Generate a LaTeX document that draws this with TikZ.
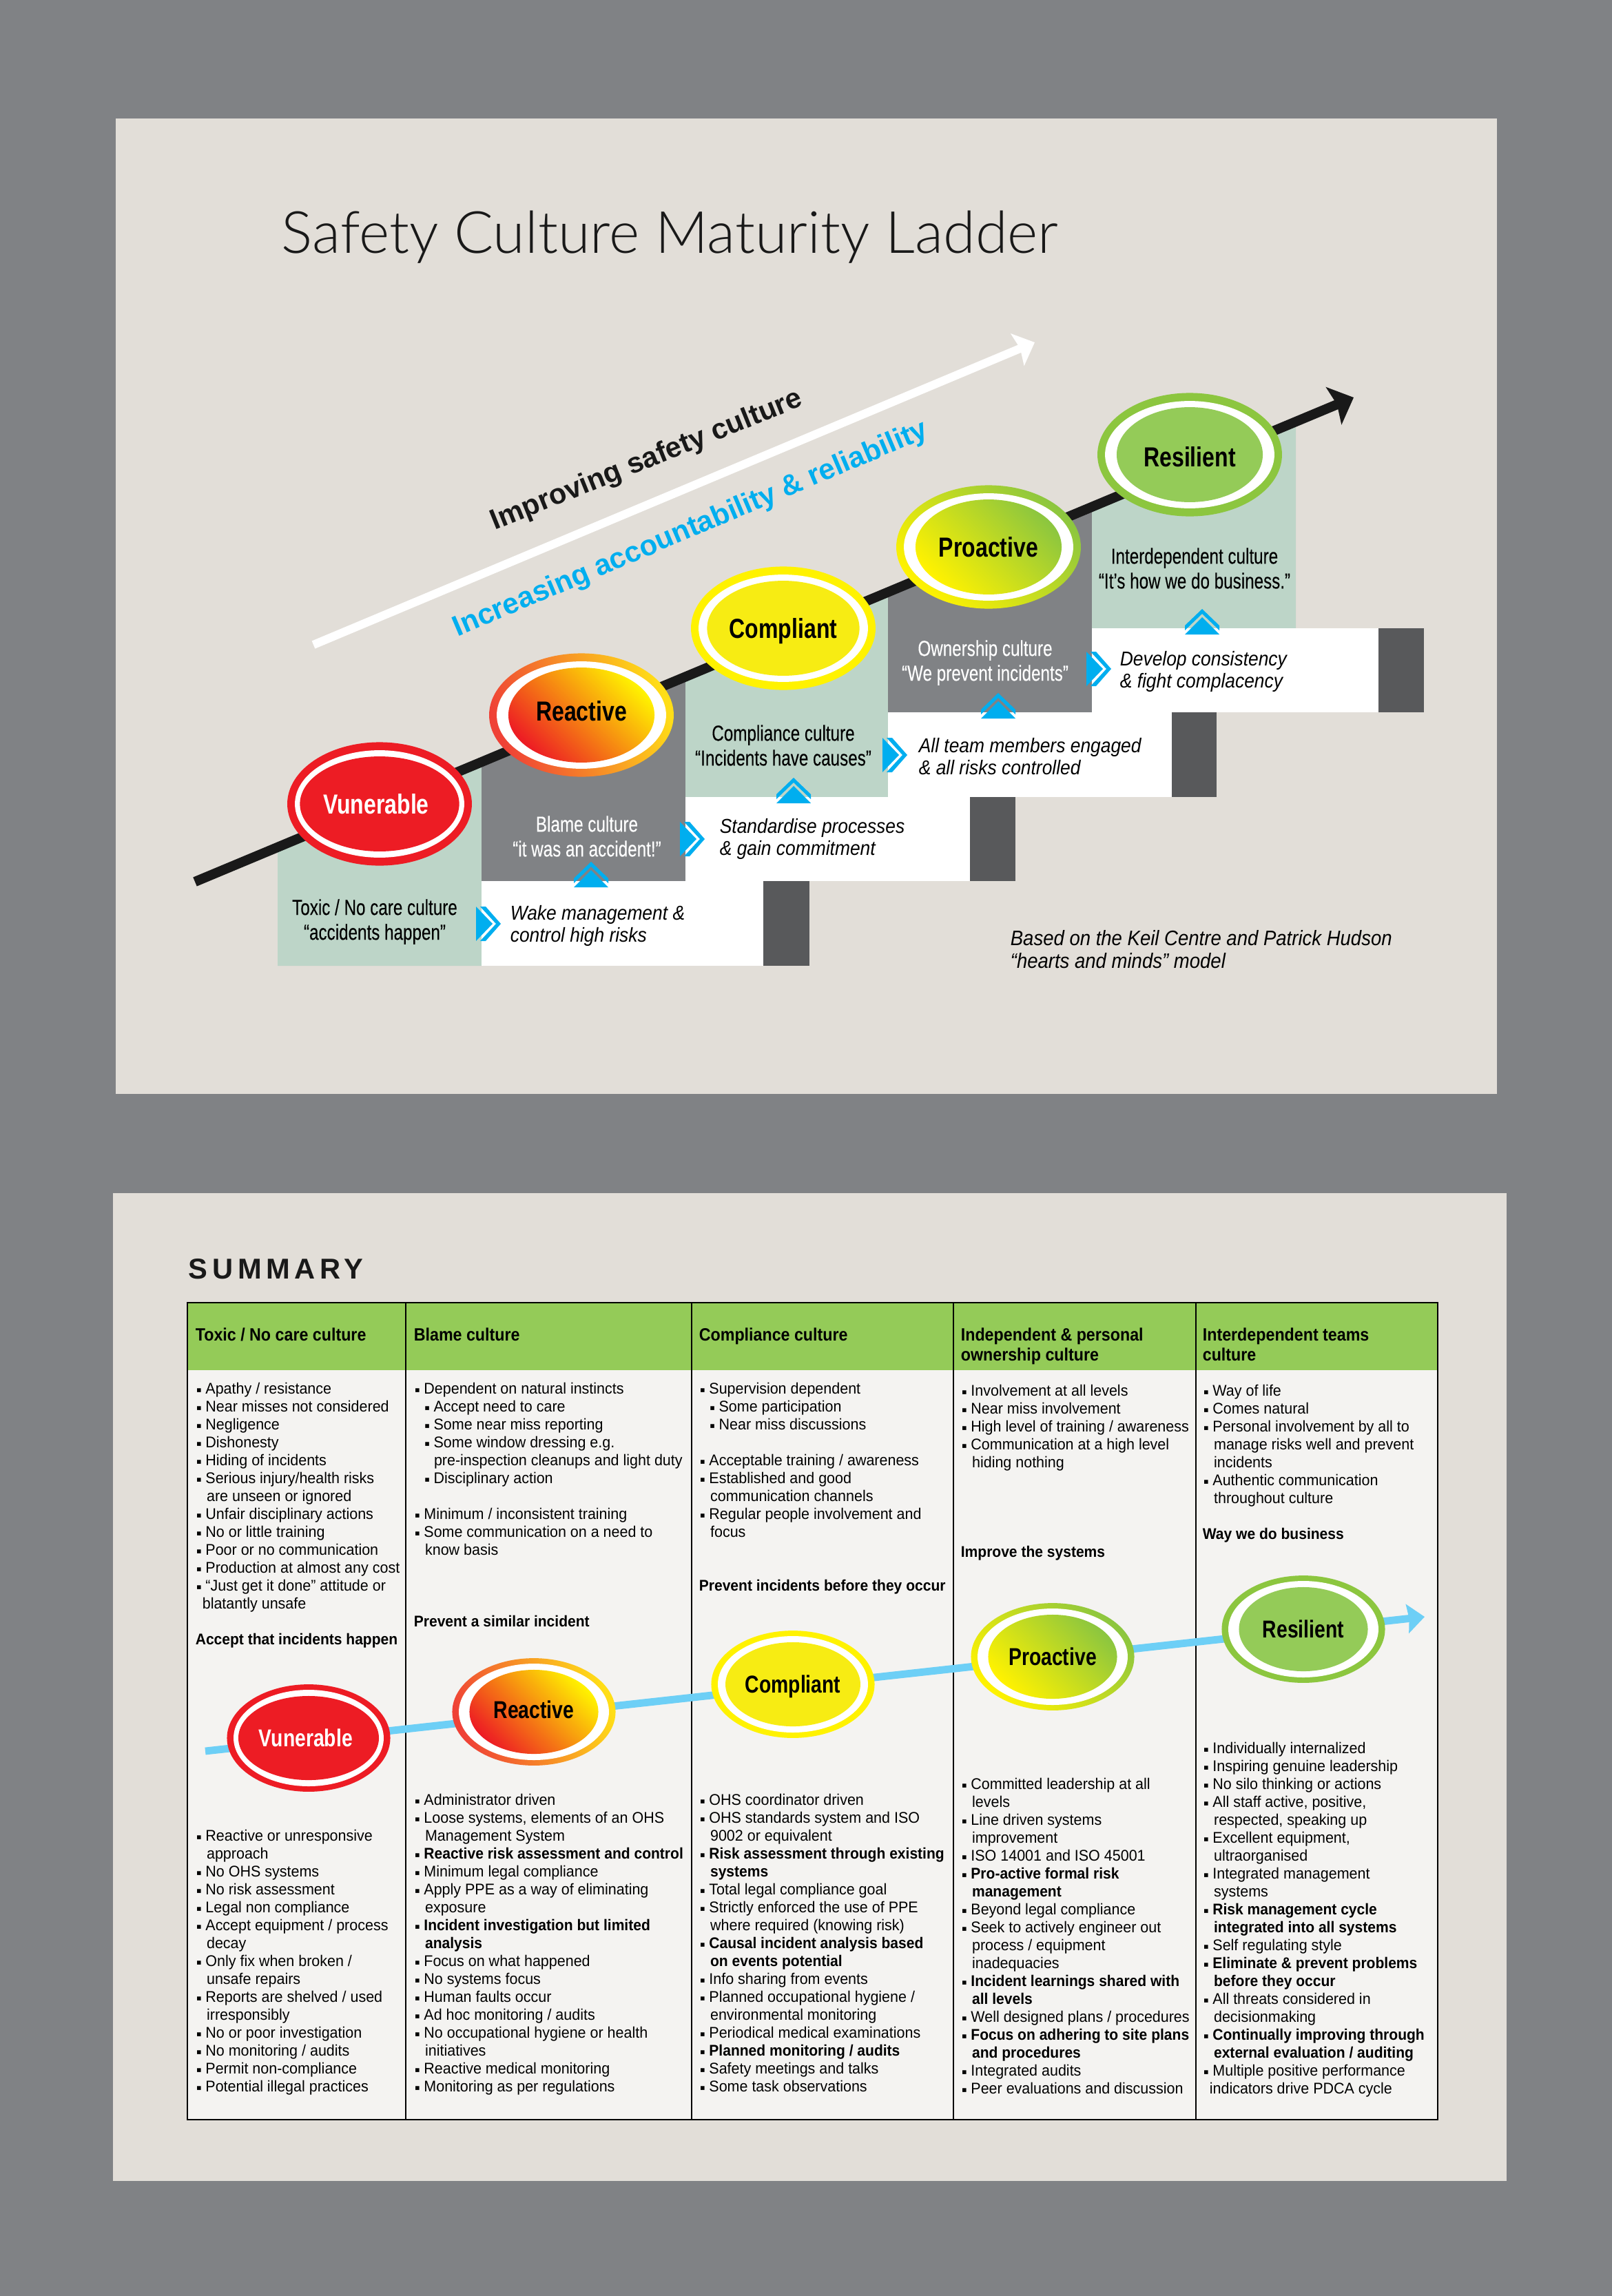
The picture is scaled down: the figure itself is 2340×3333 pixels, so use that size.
\documentclass[tikz,border=0pt]{standalone}
\usepackage{fontspec}
\usetikzlibrary{shapes.geometric,arrows.meta}
\setmainfont{Liberation Sans}
\newfontfamily\bodyfont[FakeStretch=0.955,BoldFeatures={FakeStretch=0.935}]{Liberation Sans}
\newfontfamily\narrowfont[FakeStretch=0.765,FakeBold=0.15]{Liberation Sans}
\newfontfamily\ovalfont[FakeStretch=0.8]{Liberation Sans}
\newfontfamily\leadfont[FakeStretch=0.9]{Liberation Sans}
\newfontfamily\sumfont[LetterSpace=16]{Liberation Sans}
\newfontfamily\lightfont{Lato Light}
\newfontfamily\slantfont[FakeStretch=0.905]{Liberation Sans}
\newfontfamily\symfont{DejaVu Sans}
\definecolor{bggrey}{HTML}{808285}
\definecolor{panelgrey}{HTML}{E2DED8}
\definecolor{tablewhite}{HTML}{F4F3F1}
\definecolor{stepgreen}{HTML}{BDD5C8}
\definecolor{stepdark}{HTML}{58595B}
\definecolor{tipblue}{HTML}{00AEEF}
\definecolor{lineblue}{HTML}{6DCFF6}
\definecolor{headgreen}{HTML}{94CB58}
\definecolor{rimgreen}{HTML}{8CC63F}
\definecolor{ovalred}{HTML}{ED1C24}
\definecolor{ovalyellow}{HTML}{F7EC13}
\definecolor{rimyellow}{HTML}{FFF200}
\definecolor{rimred}{HTML}{EF4136}
\definecolor{rimgold}{HTML}{FFDE17}
% bullets and indents for the table text
\newcommand{\bu}{\hspace*{0.3pt}\makebox[3.2pt][l]{\raisebox{0.4pt}{\fontsize{2.7}{3}\symfont ▪}}}
\newcommand{\su}{\hspace*{3.4pt}\bu}
\newcommand{\cn}{\hspace*{3.9pt}}
\newcommand{\sk}{\\[6.24pt]}
\tikzset{
  ovalbig/.style={ellipse,inner sep=0,outer sep=0,minimum width=64.3pt,minimum height=43pt},
  ovalbigw/.style={ellipse,inner sep=0,outer sep=0,fill=white,minimum width=59pt,minimum height=37.4pt},
  ovalbigin/.style={ellipse,inner sep=0,outer sep=0,minimum width=50.9pt,minimum height=33.1pt,text height=7.3pt,text depth=0.4pt,font=\ovalfont\bfseries\fontsize{9.6}{10}\selectfont},
  ovalsm/.style={ellipse,inner sep=0,outer sep=0,minimum width=56.9pt,minimum height=37.4pt},
  ovalsmw/.style={ellipse,inner sep=0,outer sep=0,fill=white,minimum width=52.3pt,minimum height=33.6pt},
  ovalsmin/.style={ellipse,inner sep=0,outer sep=0,minimum width=44.9pt,minimum height=29.3pt,text height=6.5pt,text depth=0.4pt,font=\ovalfont\bfseries\fontsize{8.5}{9}\selectfont},
  redgrad/.style={bottom color=ovalred,top color=rimyellow,shading angle=-45},
  redrim/.style={bottom color=rimred,top color=rimgold,shading angle=-70},
  greengrad/.style={bottom color=rimyellow,top color=rimgreen,shading angle=-45},
  steplabel/.style={align=center,inner sep=0,font=\narrowfont\fontsize{7.6}{8.64}\selectfont},
  boxlabel/.style={align=left,anchor=west,inner sep=0,font=\slantfont\itshape\fontsize{7}{7.8}\selectfont},
  headlabel/.style={align=left,anchor=north west,inner sep=0,font=\leadfont\bfseries\fontsize{6.2}{7}\selectfont},
  listbox/.style={align=left,anchor=north west,inner sep=0,font=\bodyfont\fontsize{5.4}{6.24}\selectfont},
  tableline/.style={line width=0.4pt,black},
}
% chevron pointing right, at the join of a step and its white box
\newcommand{\chevright}[2]{
  \fill[tipblue] (#1-8,#2-25) -- (#1+16,#2) -- (#1-8,#2+25) -- cycle;
  \fill[tipblue] (#1-2,#2-25) -- (#1+6,#2-25) -- (#1+28,#2) -- (#1+6,#2+25) -- (#1-2,#2+25) -- (#1+21,#2) -- cycle;
}
% chevron pointing up, at the top of a white box
\newcommand{\chevup}[2]{
  \fill[tipblue] (#1-25,#2+9) -- (#1,#2-16) -- (#1+25,#2+9) -- cycle;
  \fill[tipblue] (#1-25,#2-4) -- (#1,#2-28) -- (#1+25,#2-4) -- (#1+25,#2+3) -- (#1,#2-21) -- (#1-25,#2+3) -- cycle;
}
\begin{document}
\begin{tikzpicture}[x=0.24pt,y=-0.24pt]
\useasboundingbox (0,0) rectangle (2340,3333);
\fill[bggrey] (0,0) rectangle (2340,3333);
\fill[panelgrey] (168,172) rectangle (2173,1588);
\fill[panelgrey] (164,1732) rectangle (2187,3166);

\node[anchor=base west,inner sep=0,font=\lightfont\fontsize{20.3}{24}\selectfont,text=black!90] (title) at (408,367) {Safety Culture Maturity Ladder};

% white arrow
\coordinate (whitetail) at (455,936);
\coordinate (whitetip) at (1502,497);
\draw[white,line width=2.9pt,-{Stealth[length=6.5pt,width=12pt,inset=1pt]}] (whitetail) -- (whitetip);
\node[rotate=22,inner sep=0,font=\bfseries\fontsize{10}{12}\selectfont,text=black!90] (improving) at (939,669) {Improving safety culture};
\node[rotate=23,inner sep=0,font=\bfseries\fontsize{10.1}{13}\selectfont,text=tipblue] (increasing) at (1003,769) {Increasing accountability \& reliability};

% steps
\fill[stepgreen] (403,1228) -- (699,1105) -- (699,1402) -- (403,1402) -- cycle;
\fill[bggrey] (699,1105) -- (995,982) -- (995,1279) -- (699,1279) -- cycle;
\fill[stepgreen] (995,982) -- (1289,859) -- (1289,1157) -- (995,1157) -- cycle;
\fill[bggrey] (1289,859) -- (1585,736) -- (1585,1034) -- (1289,1034) -- cycle;
\fill[stepgreen] (1585,736) -- (1881,612) -- (1881,912) -- (1585,912) -- cycle;

\fill[white] (699,1279) rectangle (1108,1402);
\fill[stepdark] (1108,1279) rectangle (1175,1402);
\fill[white] (995,1157) rectangle (1408,1279);
\fill[stepdark] (1408,1157) rectangle (1474,1279);
\fill[white] (1289,1034) rectangle (1701,1157);
\fill[stepdark] (1701,1034) rectangle (1766,1157);
\fill[white] (1585,912) rectangle (2001,1034);
\fill[stepdark] (2001,912) rectangle (2067,1034);

% black arrow
\coordinate (blacktail) at (283,1280);
\coordinate (blacktip) at (1965,577);
\draw[black!90,line width=3.4pt,-{Stealth[length=7.5pt,width=14pt,inset=1.2pt]}] (blacktail) -- (blacktip);

% ladder ovals
\node[ovalbig,fill=ovalred] (vunerablerim) at (551,1167) {};
\node[ovalbigw] at (vunerablerim) {};
\node[ovalbigin,fill=ovalred,text=white] (vunerable) at (vunerablerim) {Vunerable\hspace*{2.4pt}};
\node[ovalbig,redrim] (reactiverim) at (844,1038) {};
\node[ovalbigw] at (reactiverim) {};
\node[ovalbigin,redgrad] (reactive) at (reactiverim) {\raisebox{1.4pt}{Reactive}};
\node[ovalbig,fill=rimyellow] (compliantrim) at (1137,912) {};
\node[ovalbigw] at (compliantrim) {};
\node[ovalbigin,fill=ovalyellow] (compliant) at (compliantrim) {Compliant};
\node[ovalbig,greengrad] (proactiverim) at (1435,794) {};
\node[ovalbigw] at (proactiverim) {};
\node[ovalbigin,greengrad] (proactive) at (proactiverim) {Proactive};
\node[ovalbig,fill=rimgreen] (resilientrim) at (1727,660) {};
\node[ovalbigw] at (resilientrim) {};
\node[ovalbigin,fill=headgreen] (resilient) at (resilientrim) {\raisebox{-0.7pt}{Resilient}};

% step labels
\node[steplabel] (toxic) at (544,1338) {Toxic / No care culture\\“accidents happen”};
\node[steplabel,text=white] (blame) at (852,1214) {Blame culture\\“it was an accident!”};
\node[steplabel] (compliance) at (1137,1082) {Compliance culture\\“Incidents have causes”};
\node[steplabel,text=white] (ownership) at (1430,962) {Ownership culture\\“We prevent incidents”};
\node[steplabel] (interdependent) at (1734,825) {Interdependent culture\\“It’s how we do business.”};

% box labels
\node[boxlabel] (wake) at (740,1344) {Wake management \&\\control high risks};
\node[boxlabel] (standardise) at (1044,1218) {Standardise processes\\\& gain commitment};
\node[boxlabel] (engaged) at (1333,1098) {All team members engaged\\\& all risks controlled};
\node[boxlabel] (develop) at (1625,975) {Develop consistency\\\& fight complacency};
\node[boxlabel,font=\slantfont\itshape\fontsize{7.3}{8}\selectfont] (based) at (1466,1378) {Based on the Keil Centre and Patrick Hudson\\“hearts and minds” model};

\chevright{699}{1341}
\chevright{995}{1218}
\chevright{1289}{1096}
\chevright{1585}{971}
\chevup{858}{1279}
\chevup{1152}{1157}
\chevup{1449}{1034}
\chevup{1745}{912}

% summary table
\node[anchor=base west,inner sep=0,font=\sumfont\bfseries\fontsize{10}{12}\selectfont,text=black!90] (summary) at (273,1856) {SUMMARY};
\fill[tablewhite] (272,1989) rectangle (2087,3077);
\fill[headgreen] (272,1891) rectangle (2087,1989);
\foreach \x in {589,1004,1384,1736} {
\draw[tableline] (\x,1891) -- (\x,3077);
}
\draw[line width=0.55pt,black] (272,1891) rectangle (2087,3077);

\node[headlabel] (headtoxic) at (283,1927) {Toxic / No care culture};
\node[headlabel] (headblame) at (600,1927) {Blame culture};
\node[headlabel] (headcompliance) at (1014,1927) {Compliance culture};
\node[headlabel] (headownership) at (1394,1927) {Independent \& personal\\ownership culture};
\node[headlabel] (headteams) at (1745,1927) {Interdependent teams\\culture};

\node[listbox] (listtoxic) at (283,2006) {\bu Apathy / resistance\\\bu Near misses not considered\\\bu Negligence\\\bu Dishonesty\\\bu Hiding of incidents\\\bu Serious injury/health risks\\\cn are unseen or ignored\\\bu Unfair disciplinary actions\\\bu No or little training\\\bu Poor or no communication\\\bu Production at almost any cost\\\bu “Just get it done” attitude or\\\hspace*{2.4pt}blatantly unsafe\sk\textbf{Accept that incidents happen}};
\node[listbox] (listblame) at (600,2006) {\bu Dependent on natural instincts\\\su Accept need to care\\\su Some near miss reporting\\\su Some window dressing e.g.\\\hspace*{7pt}pre-inspection cleanups and light duty\\\su Disciplinary action\sk\bu Minimum / inconsistent training\\\bu Some communication on a need to\\\cn know basis\sk\mbox{}\sk\textbf{Prevent a similar incident}};
\node[listbox] (listcompliance) at (1014,2006) {\bu Supervision dependent\\\su Some participation\\\su Near miss discussions\sk\bu Acceptable training / awareness\\\bu Established and good\\\cn communication channels\\\bu Regular people involvement and\\\cn focus\sk\mbox{}\\\textbf{Prevent incidents before they occur}};
\node[listbox] (listownership) at (1394,2009) {\bu Involvement at all levels\\\bu Near miss involvement\\\bu High level of training / awareness\\\bu Communication at a high level\\\cn hiding nothing\sk\mbox{}\sk\mbox{}\\\textbf{Improve the systems}};
\node[listbox] (listteams) at (1745,2009) {\bu Way of life\\\bu Comes natural\\\bu Personal involvement by all to\\\cn manage risks well and prevent\\\cn incidents\\\bu Authentic communication\\\cn throughout culture\sk\textbf{Way we do business}};

\coordinate (bluetail) at (298,2542);
\coordinate (bluetip) at (2068,2347);
\draw[lineblue,line width=2.6pt,-{Stealth[length=6pt,width=10pt,inset=0.6pt]}] (bluetail) -- (bluetip);

\node[ovalsm,fill=ovalred] (tablevunerablerim) at (448,2523) {};
\node[ovalsmw] at (tablevunerablerim) {};
\node[ovalsmin,fill=ovalred,text=white] (tablevunerable) at (tablevunerablerim) {Vunerable\hspace*{2pt}};
\node[ovalsm,redrim] (tablereactiverim) at (775,2485) {};
\node[ovalsmw] at (tablereactiverim) {};
\node[ovalsmin,redgrad] (tablereactive) at (tablereactiverim) {\raisebox{0.8pt}{Reactive}};
\node[ovalsm,fill=rimyellow] (tablecompliantrim) at (1151,2445) {};
\node[ovalsmw] at (tablecompliantrim) {};
\node[ovalsmin,fill=ovalyellow] (tablecompliant) at (tablecompliantrim) {Compliant};
\node[ovalsm,greengrad] (tableproactiverim) at (1528,2405) {};
\node[ovalsmw] at (tableproactiverim) {};
\node[ovalsmin,greengrad] (tableproactive) at (tableproactiverim) {Proactive};
\node[ovalsm,fill=rimgreen] (tableresilientrim) at (1892,2365) {};
\node[ovalsmw] at (tableresilientrim) {};
\node[ovalsmin,fill=headgreen] (tableresilient) at (tableresilientrim) {Resilient};

\node[listbox] (lowertoxic) at (283,2655) {\bu Reactive or unresponsive\\\cn approach\\\bu No OHS systems\\\bu No risk assessment\\\bu Legal non compliance\\\bu Accept equipment / process\\\cn decay\\\bu Only fix when broken /\\\cn unsafe repairs\\\bu Reports are shelved / used\\\cn irresponsibly\\\bu No or poor investigation\\\bu No monitoring / audits\\\bu Permit non-compliance\\\bu Potential illegal practices};
\node[listbox] (lowerblame) at (600,2603) {\bu Administrator driven\\\bu Loose systems, elements of an OHS\\\cn Management System\\\bu \textbf{Reactive risk assessment and control}\\\bu Minimum legal compliance\\\bu Apply PPE as a way of eliminating\\\cn exposure\\\bu \textbf{Incident investigation but limited}\\\cn\textbf{analysis}\\\bu Focus on what happened\\\bu No systems focus\\\bu Human faults occur\\\bu Ad hoc monitoring / audits\\\bu No occupational hygiene or health\\\cn initiatives\\\bu Reactive medical monitoring\\\bu Monitoring as per regulations};
\node[listbox] (lowercompliance) at (1014,2603) {\bu OHS coordinator driven\\\bu OHS standards system and ISO\\\cn 9002 or equivalent\\\bu \textbf{Risk assessment through existing}\\\cn\textbf{systems}\\\bu Total legal compliance goal\\\bu Strictly enforced the use of PPE\\\cn where required (knowing risk)\\\bu \textbf{Causal incident analysis based}\\\cn\textbf{on events potential}\\\bu Info sharing from events\\\bu Planned occupational hygiene /\\\cn environmental monitoring\\\bu Periodical medical examinations\\\bu \textbf{Planned monitoring / audits}\\\bu Safety meetings and talks\\\bu Some task observations};
\node[listbox] (lowerownership) at (1394,2580) {\bu Committed leadership at all\\\cn levels\\\bu Line driven systems\\\cn improvement\\\bu ISO 14001 and ISO 45001\\\bu \textbf{Pro-active formal risk}\\\cn\textbf{management}\\\bu Beyond legal compliance\\\bu Seek to actively engineer out\\\cn process / equipment\\\cn inadequacies\\\bu \textbf{Incident learnings shared with}\\\cn\textbf{all levels}\\\bu Well designed plans / procedures\\\bu \textbf{Focus on adhering to site plans}\\\cn\textbf{and procedures}\\\bu Integrated audits\\\bu Peer evaluations and discussion};
\node[listbox] (lowerteams) at (1745,2528) {\bu Individually internalized\\\bu Inspiring genuine leadership\\\bu No silo thinking or actions\\\bu All staff active, positive,\\\cn respected, speaking up\\\bu Excellent equipment,\\\cn ultraorganised\\\bu Integrated management\\\cn systems\\\bu \textbf{Risk management cycle}\\\cn\textbf{integrated into all systems}\\\bu Self regulating style\\\bu \textbf{Eliminate \& prevent problems}\\\cn\textbf{before they occur}\\\bu All threats considered in\\\cn decisionmaking\\\bu \textbf{Continually improving through}\\\cn\textbf{external evaluation / auditing}\\\bu Multiple positive performance\\\hspace*{2.4pt}indicators drive PDCA cycle};
\end{tikzpicture}
\end{document}
